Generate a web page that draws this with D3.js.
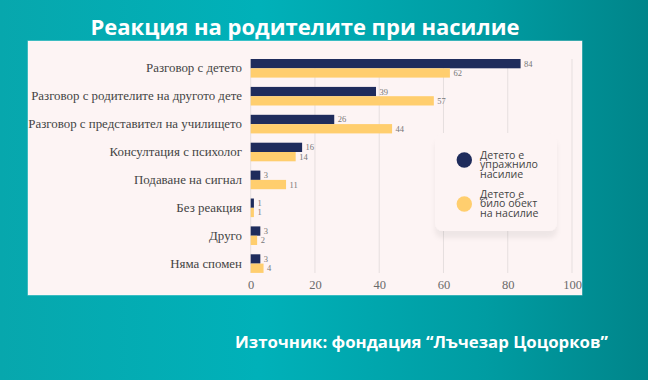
<!DOCTYPE html>
<html><head><meta charset="utf-8">
<script src="https://cdn.jsdelivr.net/npm/d3@7/dist/d3.min.js"></script>
<style>html,body{margin:0;padding:0;overflow:hidden;}svg{display:block;}</style>
</head><body>
<svg id="c" width="648" height="380"></svg>
<script>
const categories = ["Разговор с детето","Разговор с родителите на другото дете","Разговор с представител на училището","Консултация с психолог","Подаване на сигнал","Без реакция","Друго","Няма спомен"];
const seriesNames = ["Детето е упражнило насилие","Детето е било обект на насилие"];
const legendLines = [["Детето е","упражнило","насилие"],["Детето е","било обект","на насилие"]];
const perpetrator = [84,39,26,16,3,1,3,3];
const victim = [62,57,44,14,11,1,2,4];
const xTicks = [0,20,40,60,80,100];
const title = "Реакция на родителите при насилие";
const source = "Източник: фондация “Лъчезар Цоцорков”";

const colors = ["#1F2C5C","#FFCE6E"];
const svg = d3.select("#c");
const defs = svg.append("defs");
const bg = defs.append("linearGradient").attr("id","bg").attr("x1","0").attr("x2","1").attr("y1","0").attr("y2","0");
bg.append("stop").attr("offset","0%").attr("stop-color","#07A7AD");
bg.append("stop").attr("offset","40%").attr("stop-color","#00B1B9");
bg.append("stop").attr("offset","75%").attr("stop-color","#009CA2");
bg.append("stop").attr("offset","100%").attr("stop-color","#00858A");
const sh = defs.append("filter").attr("id","sh").attr("x","-20%").attr("y","-20%").attr("width","140%").attr("height","150%");
sh.append("feDropShadow").attr("dx",0).attr("dy",7).attr("stdDeviation",2.5).attr("flood-color","#000").attr("flood-opacity",0.06);

svg.append("rect").attr("width",648).attr("height",380).attr("fill","url(#bg)");
svg.append("text").attr("x",305).attr("y",35).attr("text-anchor","middle")
  .attr("font-family","'Open Sans'").attr("font-weight",700).attr("font-size",22).attr("fill","#fff").text(title);
svg.append("rect").attr("x",28).attr("y",41).attr("width",554).attr("height",254)
  .attr("fill","#FDF4F4").attr("stroke","rgba(255,255,255,0.45)").attr("stroke-width",1);

const x = d3.scaleLinear().domain([0,100]).range([250.7,572]);
const y0 = d3.scaleBand().domain(categories).range([54.35,277.55]).paddingInner(0.3333).paddingOuter(0.1667);
const y1 = d3.scaleBand().domain([0,1]).range([0,y0.bandwidth()]);

// gridlines
svg.append("g").selectAll("line").data(xTicks).join("line")
  .attr("x1",d=>x(d)).attr("x2",d=>x(d)).attr("y1",59).attr("y2",273)
  .attr("stroke","#E6DFDF").attr("stroke-width",1);

// axis labels
const ax = svg.append("g").attr("transform","translate(0,289)")
  .call(d3.axisBottom(x).tickValues(xTicks).tickSize(0).tickPadding(0));
ax.select(".domain").remove();
ax.selectAll("text").attr("font-family","'Liberation Serif'").attr("font-size",12.5).attr("fill","#6a6a6a").attr("dy","0");

const yAx = svg.append("g").attr("transform","translate(242,0)")
  .call(d3.axisLeft(y0).tickSize(0).tickPadding(0));
yAx.select(".domain").remove();
yAx.selectAll("text").attr("font-family","'Liberation Serif'").attr("font-size",12.9).attr("fill","#444");

// legend box
svg.append("rect").attr("x",435).attr("y",133).attr("width",122).attr("height",98).attr("rx",8)
  .attr("fill","#FDF4F4").attr("filter","url(#sh)");

const data = categories.map((c,i)=>({c, v:[perpetrator[i], victim[i]]}));
const g = svg.append("g").selectAll("g").data(data).join("g").attr("transform",d=>`translate(0,${y0(d.c)})`);
g.selectAll("rect").data(d=>d.v.map((v,k)=>({v,k}))).join("rect")
  .attr("x",x(0)).attr("y",d=>y1(d.k)).attr("width",d=>x(d.v)-x(0)).attr("height",y1.bandwidth())
  .attr("fill",d=>colors[d.k]);
g.selectAll("text").data(d=>d.v.map((v,k)=>({v,k}))).join("text")
  .attr("x",d=>x(d.v)+3.5).attr("y",d=>y1(d.k)+y1.bandwidth()/2).attr("dy","0.35em")
  .attr("font-family","'Liberation Serif'").attr("font-size",8.5).attr("fill","#777").text(d=>d.v);

// legend
const lg = svg.append("g");
const cy = [160,204];
const firstY = [158.5,197.5];
seriesNames.forEach((s,k)=>{
  lg.append("circle").attr("cx",464.3).attr("cy",cy[k]).attr("r",7.7).attr("fill",colors[k]);
  const t = lg.append("text").attr("x",480).attr("y",firstY[k]).attr("font-family","'Open Sans'")
      .attr("font-size",10.6).attr("fill","#444");
  legendLines[k].forEach((line,j)=>{
    t.append("tspan").attr("x",480).attr("dy", j===0 ? 0 : 9.6).text(line);
  });
});

svg.append("text").attr("x",421.5).attr("y",347.5).attr("text-anchor","middle")
  .attr("font-family","'Open Sans'").attr("font-weight",700).attr("font-size",16.8).attr("fill","#fff").text(source);
</script>
</body></html>
